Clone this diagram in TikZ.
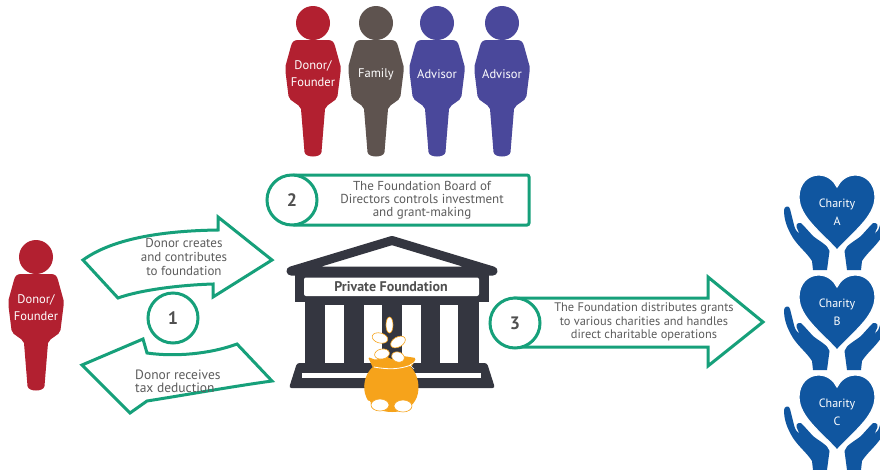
\documentclass[tikz,border=0pt]{standalone}
\usepackage{fontspec}
\setmainfont{PT Sans}
\definecolor{grn}{RGB}{22,160,122}
\definecolor{donorred}{RGB}{178,32,48}
\definecolor{famgray}{RGB}{94,83,79}
\definecolor{advblue}{RGB}{74,72,155}
\definecolor{charblue}{RGB}{16,86,160}
\definecolor{bld}{RGB}{52,54,64}
\definecolor{txtgray}{RGB}{92,92,92}
\definecolor{numgray}{RGB}{80,80,80}
\definecolor{bagorange}{RGB}{246,163,27}
% outline of one hand cupping a heart (left side)
\newcommand\handoutline{(-53,35) .. controls (-53,31) and (-47.5,30) .. (-47,34)
      -- (-43,50) .. controls (-41.5,55) .. (-37.5,59)
      -- (-40.5,52) .. controls (-41.5,47.5) and (-36,46.5) .. (-34,50)
      -- (-24,61) .. controls (-18,66) and (-9,70) .. (-7.5,76)
      -- (-10,95) -- (-24,95) -- (-25,86)
      .. controls (-30,78) and (-38,72) .. (-44,63)
      .. controls (-50,53) and (-53,45) .. cycle}
\tikzset{
  grnline/.style={draw=grn, line width=3pt, fill=white, line join=miter},
  steptext/.style={text=txtgray, font=\fontsize{13}{14}\selectfont, align=center, inner sep=0pt},
  numcirc/.style={circle, minimum size=50pt, draw=grn, line width=3pt, fill=white,
    text=numgray, font=\fontsize{18}{20}\selectfont\bfseries, inner sep=0pt},
  figlabel/.style={text=white, font=\fontsize{12.5}{17}\selectfont, align=center, inner sep=0pt},
  charlabel/.style={text=white, font=\fontsize{12}{18}\selectfont, align=center, inner sep=0pt},
  coin/.style={fill=white, draw=bagorange, line width=0.6pt},
  % a standing figure: head top at the pic origin
  pics/person/.style 2 args={code={
    \fill[#1] (0,17) circle (17);
    \fill[#1] (-15,34) .. controls (-19,34) and (-21,36) .. (-22,40)
      -- (-27.5,60) .. controls (-28.2,63) .. (-27.5,66)
      -- (-24.5,90) .. controls (-23.5,96) and (-14,97) .. (-12,103)
      -- (-8.5,146) .. controls (-8,152) and (8,152) .. (8.5,146)
      -- (12,103) .. controls (14,97) and (23.5,96) .. (24.5,90)
      -- (27.5,66) .. controls (28.2,63) .. (27.5,60)
      -- (22,40) .. controls (21,36) and (19,34) .. (15,34) -- cycle;
    \node[figlabel] (-label) at (0,68) {#2};
  }},
  % heart held by two hands: heart top at the pic origin
  pics/charity/.style={code={
    \fill[charblue] \handoutline;
    \begin{scope}[xscale=-1]
      \fill[charblue] \handoutline;
    \end{scope}
    \filldraw[fill=charblue, draw=white, line width=1.2pt]
      (0,75) .. controls (-15,58) and (-38,42) .. (-38,22)
      .. controls (-38,8) and (-28.5,0) .. (-18.5,0)
      .. controls (-9,0) and (-3,6) .. (0,12)
      .. controls (3,6) and (9,0) .. (18.5,0)
      .. controls (28.5,0) and (38,8) .. (38,22)
      .. controls (38,42) and (15,58) .. (0,75) -- cycle;
    \node[charlabel] (-label) at (0,37) {#1};
  }},
}
\begin{document}
\begin{tikzpicture}[x=1pt,y=-1pt]
\fill[white] (0,0) rectangle (880,469);
\useasboundingbox (0,0) rectangle (880,469);

% board members
\pic (board1) at (313,6) {person={donorred}{Donor/\\Founder}};
\pic (board2) at (376,6) {person={famgray}{Family}};
\pic (board3) at (437,6) {person={advblue}{Advisor}};
\pic (board4) at (502,6) {person={advblue}{Advisor}};

% donor on the left
\pic (donor) at (36,240) {person={donorred}{Donor/\\Founder}};

% step 2: board box
\draw[draw=grn, line width=3pt, rounded corners=2pt] (292,175) rectangle (529,225);
\node[steptext, font=\fontsize{13}{12.8}\selectfont] (boardtext) at (422,200)
  {The Foundation Board of\\Directors controls investment\\and grant-making};
\node[numcirc] (n2) at (292,200) {2};

% step 1: contribution and deduction arrows
\draw[grnline] (83,260) .. controls (108,242) and (150,231) .. (218,230)
  -- (218,217) -- (272,260) -- (213,297) -- (213,284)
  .. controls (180,285) and (140,290) .. (118,298) -- cycle;
\node[steptext] (give) at (184,257) {Donor creates\\and contributes\\to foundation};
\draw[grnline] (82,365) -- (143,339) -- (147,353)
  .. controls (175,357) and (210,354) .. (237,344) -- (272,381)
  .. controls (235,386) and (185,395) .. (147,401) -- (130,413) -- cycle;
\node[steptext, align=left, anchor=west, font=\fontsize{13.5}{12.8}\selectfont] (deduct) at (135,381)
  {Donor receives\\tax deduction};
\node[numcirc] (n1) at (173,318) {1};

% step 3: grants arrow
\draw[grnline] (515,298) -- (708,298) -- (708,277) -- (763,322)
  -- (708,366) -- (708,347) -- (515,347) -- cycle;
\node[steptext, font=\fontsize{12.4}{13.6}\selectfont] (grants) at (644,322)
  {The Foundation distributes grants\\to various charities and handles\\direct charitable operations};
\node[numcirc] (n3) at (515,323) {3};

% private foundation building
\draw[bld, line width=9pt, line cap=round, line join=round]
  (291,271) -- (392,240.5) -- (493,271) -- cycle;
\fill[bld] (295,271) rectangle (489,302);
\fill[white, rounded corners=2pt] (304,277.5) rectangle (479,296);
\node[text=numgray, font=\fontsize{14}{16}\selectfont\bfseries, inner sep=0pt]
  (pfname) at (391,287) {Private Foundation};
\fill[bld] (305,300) rectangle (479,364);
\foreach \sx in {325,363.5,402,439.5}
  \fill[white] (\sx,305) rectangle ++(18.5,58);
\fill[bld, rounded corners=2.5pt] (297,363) -- (487,363) -- (495,388) -- (289,388) -- cycle;
\fill[white] (302,373) rectangle (481,378);

% money bag with falling coins
\fill[bagorange] (374,366) .. controls (358,378) and (360,412) .. (392,412)
  .. controls (424,412) and (423,378) .. (410,366) -- cycle;
\fill[bagorange, rounded corners=1.5pt] (368,357) -- (376,360) -- (385,356) -- (394,360)
  -- (403,356) -- (416,358) -- (411,368) -- (373,368) -- cycle;
\draw[white, line width=0.8pt] (374,367) .. controls (390,370) and (400,369) .. (411,365);
\draw[white, line width=0.7pt] (410,365) -- (415,362) (410,365) -- (414,369);
\draw[coin] (389.5,325) ellipse [x radius=3.5, y radius=8];
\draw[coin, rotate around={-15:(380,338)}] (380,338) ellipse [x radius=8, y radius=5];
\draw[coin, rotate around={30:(398,342)}] (398,342) ellipse [x radius=8, y radius=5];
\draw[coin, rotate around={10:(382,354)}] (382,354) ellipse [x radius=7.5, y radius=5];
\draw[coin, rotate around={-20:(398,357)}] (398,357) ellipse [x radius=6.5, y radius=5];
\draw[coin] (380,405) ellipse [x radius=9, y radius=6];
\draw[coin] (403,406) ellipse [x radius=9, y radius=6];
\fill[white] (366,403) ellipse [x radius=5, y radius=3];

% charities
\pic (charA) at (837,175) {charity={Charity\\A}};
\pic (charB) at (837,275) {charity={Charity\\B}};
\pic (charC) at (837,375) {charity={Charity\\C}};
\end{tikzpicture}
\end{document}
